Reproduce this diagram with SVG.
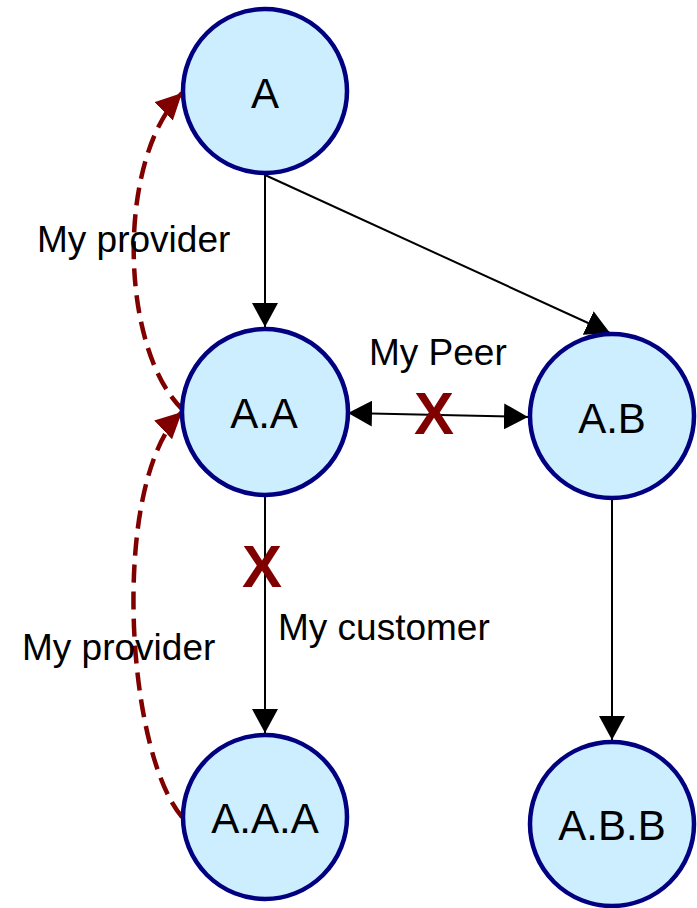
<svg xmlns="http://www.w3.org/2000/svg" width="697" height="908" viewBox="0 0 697 908">
<defs>
<style>
.node circle{fill:#cceeff;stroke:#000080;stroke-width:4.5}
.node text{font-family:"Liberation Sans",Arial,sans-serif;font-size:42px;fill:#000;text-anchor:middle}
.edge{stroke:#000;stroke-width:2;fill:none}
.prov{stroke:#800000;stroke-width:4.5;fill:none;stroke-dasharray:18 9}
.lbl{font-family:"Liberation Sans",Arial,sans-serif;font-size:37px;fill:#000}
.x{font-family:"Liberation Sans",Arial,sans-serif;font-size:60px;font-weight:bold;fill:#800000;text-anchor:middle}
</style>
<marker id="ah" markerUnits="userSpaceOnUse" viewBox="0 0 24 26" markerWidth="24" markerHeight="26" refX="24" refY="13" orient="auto-start-reverse">
<path d="M0,0 L24,13 L0,26 z" fill="#000"/>
</marker>
<marker id="rh" markerUnits="userSpaceOnUse" viewBox="0 0 26 26" markerWidth="26" markerHeight="26" refX="26" refY="13" orient="auto">
<path d="M0,0 L26,13 L0,26 z" fill="#800000"/>
</marker>
</defs>
<g id="connectors">
<path class="edge" d="M265,175 L265,327" marker-end="url(#ah)"/>
<path class="edge" d="M265,175 L610,333" marker-end="url(#ah)"/>
<path class="edge" d="M348,413 L528,417" marker-start="url(#ah)" marker-end="url(#ah)"/>
<path class="edge" d="M265,497 L265,733" marker-end="url(#ah)"/>
<path class="edge" d="M612,500 L612,740" marker-end="url(#ah)"/>
<path class="prov" d="M183,410 C120,350 115,160 182,93" marker-end="url(#rh)"/>
<path class="prov" d="M182,817 C125,750 110,480 182,412" marker-end="url(#rh)"/>
<text class="x" x="434" y="434">X</text>
<text class="x" x="262" y="587">X</text>
<text class="lbl" x="37" y="252">My provider</text>
<text class="lbl" x="22" y="660">My provider</text>
<text class="lbl" x="369" y="365">My Peer</text>
<text class="lbl" x="278" y="640">My customer</text>
</g>
<g id="node-A" class="node"><circle cx="265" cy="91" r="82"/><text x="265" y="108">A</text></g>
<g id="node-AA" class="node"><circle cx="265" cy="412" r="83"/><text x="264" y="428">A.A</text></g>
<g id="node-AB" class="node"><circle cx="612" cy="416" r="82"/><text x="612" y="433">A.B</text></g>
<g id="node-AAA" class="node"><circle cx="265" cy="817" r="82"/><text x="265" y="833">A.A.A</text></g>
<g id="node-ABB" class="node"><circle cx="612" cy="824" r="82"/><text x="612" y="840">A.B.B</text></g>
</svg>
